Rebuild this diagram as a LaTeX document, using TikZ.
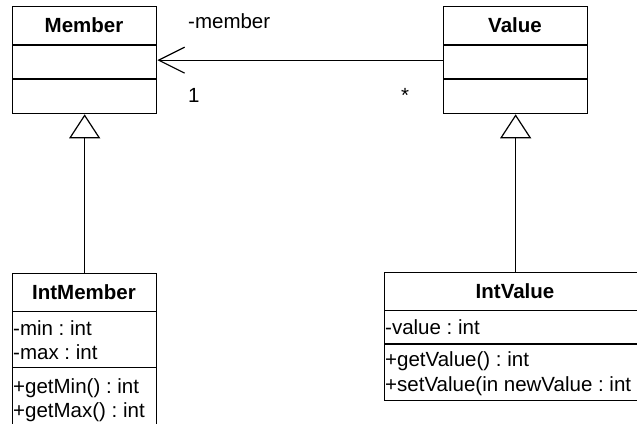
\documentclass[tikz,border=0pt]{standalone}
\usepackage{fontspec}
\setmainfont{Liberation Sans}
\usetikzlibrary{arrows.meta}
\frenchspacing
\begin{document}
\begin{tikzpicture}[x=1pt,y=-1pt,
  box/.style={draw, line width=1.3pt, inner sep=0pt, anchor=north west},
  divider/.style={line width=1.3pt},
  title/.style={font=\fontsize{20.5}{24}\selectfont\bfseries, anchor=base, inner sep=0pt},
  txt/.style={font=\fontsize{20.5}{24}\selectfont\frenchspacing, anchor=base west, inner sep=0pt},
  conn/.style={line width=1pt},
  assoc/.style={conn, -{Straight Barb[length=26pt,width=26pt,line width=1.2pt]}},
  inherit/.style={conn, -{Triangle[open,length=24pt,width=31pt,fill=white,line width=1.2pt]}}
]
\useasboundingbox (0,0) rectangle (637,423);
\clip (0,0) rectangle (637,423);

% class boxes
\node[box, minimum width=144pt, minimum height=107pt] (member) at (12,6) {};
\node[box, minimum width=144pt, minimum height=107pt] (value) at (443,6) {};
\node[box, minimum width=144pt, minimum height=170pt] (intmember) at (12,272.7) {};
\node[box, minimum width=262pt, minimum height=128.3pt] (intvalue) at (384,271.7) {};

% compartments
\draw[divider] (12,45) -- (156,45);
\draw[divider] (12,79) -- (156,79);
\draw[divider] (443,45) -- (587,45);
\draw[divider] (443,79) -- (587,79);
\draw[divider] (12,311.7) -- (156,311.7);
\draw[divider] (12,367.7) -- (156,367.7);
\draw[divider] (384,310.7) -- (646,310.7);
\draw[divider] (384,344) -- (646,344);

% titles
\node[title] (tmember) at (84,32.8) {Member};
\node[title] (tvalue) at (515,32.8) {Value};
\node[title] (tintmember) at (84,299.5) {IntMember};
\node[title] (tintvalue) at (515,298.6) {IntValue};

% members
\node[txt] (amin) at (13,335.5) {-min : int};
\node[txt] (amax) at (13,359.5) {-max : int};
\node[txt] (ogetmin) at (13,393.3) {+getMin() : int};
\node[txt] (ogetmax) at (13,417.3) {+getMax() : int};
\node[txt] (avalue) at (385,334) {-value : int};
\node[txt] (ogetvalue) at (385,366.5) {+getValue() : int};
\node[txt] (osetvalue) at (385,391.5) {+setValue(in newValue : int};

% connectors
\draw[assoc] (value.west) -- (member.east);
\draw[inherit] (intmember.north) -- (member.south);
\draw[inherit] (intvalue.north) -- (value.south);

% association labels
\node[txt] (lrole) at (188,28.3) {-member};
\node[txt] (lone) at (188,102.3) {1};
\node[txt] (lmany) at (401,102.3) {*};
\end{tikzpicture}
\end{document}
